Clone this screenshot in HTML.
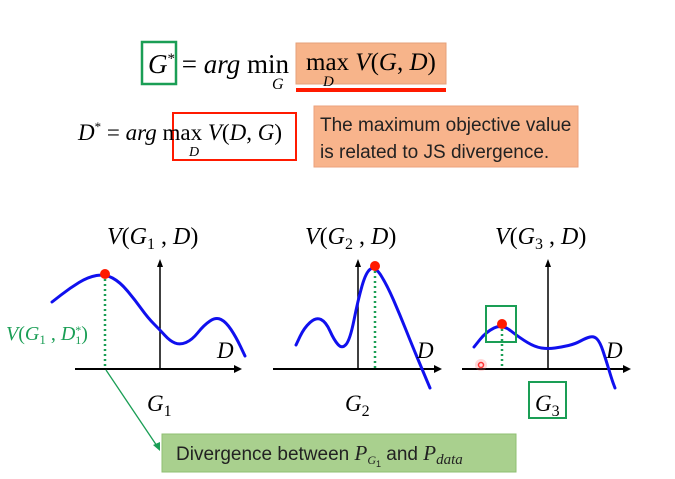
<!DOCTYPE html>
<html><head><meta charset="utf-8"><style>
html,body{margin:0;padding:0;background:#fff;}
svg{display:block;}
text{font-family:"Liberation Serif",serif;}
.it{font-style:italic;}
.sans{font-family:"Liberation Sans",sans-serif;}
</style></head><body>
<svg id="s" width="675" height="479" viewBox="0 0 675 479">
  <rect width="675" height="479" fill="#fff"/>
  <rect x="142" y="42" width="34" height="42" fill="none" stroke="#1a9e55" stroke-width="2.5"/>
  <rect x="296" y="43" width="150" height="41" fill="#f7b48a" stroke="#e6a07a"/>
  <rect x="296" y="88" width="150" height="4" fill="#ff1a00"/>
  <text x="148" y="73" font-size="27"><tspan class="it">G</tspan><tspan font-size="15" dy="-10">*</tspan><tspan dy="10"> = </tspan><tspan class="it">arg</tspan> min</text>
  <text x="272" y="89" font-size="16" class="it">G</text>
  <text x="306" y="70" font-size="25">max <tspan class="it">V</tspan>(<tspan class="it">G</tspan>, <tspan class="it">D</tspan>)</text>
  <text x="323" y="86" font-size="15" class="it">D</text>

  <rect x="173" y="113" width="123" height="47" fill="none" stroke="#ff1a00" stroke-width="2"/>
  <text x="78" y="140" font-size="23"><tspan class="it">D</tspan><tspan font-size="13" dy="-9">*</tspan><tspan dy="9"> = </tspan><tspan class="it">arg</tspan> max <tspan class="it">V</tspan>(<tspan class="it">D</tspan>, <tspan class="it">G</tspan>)</text>
  <text x="189" y="156" font-size="14" class="it">D</text>
  <rect x="314" y="106" width="264" height="61" fill="#f8b48c" stroke="#eba27c"/>
  <text x="320" y="131" font-size="19" class="sans" fill="#222">The maximum objective value</text>
  <text x="320" y="158" font-size="19" class="sans" fill="#222">is related to JS divergence.</text>

  <g id="plots"></g>

  <text x="6" y="340" font-size="20" fill="#1a9e55"><tspan class="it">V</tspan>(<tspan class="it">G</tspan><tspan font-size="13" dy="4">1</tspan><tspan dy="-4"> , </tspan><tspan class="it">D</tspan><tspan font-size="12" dy="-6">*</tspan><tspan font-size="12" dx="-6" dy="10">1</tspan><tspan dy="-4">)</tspan></text>
  <rect x="529" y="382" width="37" height="36" fill="none" stroke="#1a9e55" stroke-width="2"/>
  <rect x="486" y="306" width="30" height="36" fill="none" stroke="#1a9e55" stroke-width="2"/>
  <circle cx="481" cy="365" r="6" fill="#f66" opacity="0.25"/>
  <circle cx="481" cy="365" r="2.5" fill="none" stroke="#f33" stroke-width="1.5"/>

  <line x1="106" y1="370" x2="157" y2="446" stroke="#1a9e55" stroke-width="1.3"/>
  <polygon points="160,451 153,445 160,442" fill="#1a9e55"/>
  <rect x="162" y="434" width="354" height="38" fill="#a9d08e" stroke="#8fbf72"/>
  <text x="176" y="460" font-size="19" class="sans" fill="#222">Divergence between <tspan class="it" font-family="Liberation Serif" font-size="21">P</tspan><tspan class="it" font-family="Liberation Serif" font-size="12" dy="4">G</tspan><tspan font-size="9" dy="3">1</tspan><tspan dy="-7"> and </tspan><tspan class="it" font-family="Liberation Serif" font-size="21">P</tspan><tspan class="it" font-family="Liberation Serif" font-size="15" dy="4">data</tspan></text>
</svg>
<script>
const plotNames = ["G1","G2","G3"];
const axisX0 = [75, 273, 462];
const axisX1 = [242, 442, 631];
const yAxisX = [160, 358, 548];
const curve1 = [[52,302],[70,288],[88,277],[105,274],[120,282],[135,300],[148,318],[160,330],[170,341],[180,345],[192,340],[204,325],[216,317],[226,322],[236,337],[245,356]];
const curve2 = [[296,345],[304,328],[316,317],[326,322],[334,340],[342,349],[350,340],[358,300],[366,272],[375,266],[387,285],[400,315],[412,345],[422,369],[430,388]];
const curve3 = [[474,347],[486,332],[502,324],[520,338],[535,347],[548,349],[562,347],[575,344],[586,338],[594,336],[600,342],[606,360],[612,380],[615,388]];
const curves = [curve1, curve2, curve3];
const peaks = [[105,274],[375,266],[502,324]];
const NS="http://www.w3.org/2000/svg";
const g=document.getElementById('plots');
function mk(t,a){const e=document.createElementNS(NS,t);for(const k in a)e.setAttribute(k,a[k]);g.appendChild(e);return e;}
const axisY=369, axisTop=259;
for(let i=0;i<3;i++){
  let l=mk('line',{x1:axisX0[i],y1:axisY,x2:axisX1[i]-6,y2:axisY,stroke:'#000','stroke-width':2});
  
  
  let ah=mk('polygon',{points:`${axisX1[i]},${axisY} ${axisX1[i]-8},${axisY-4} ${axisX1[i]-8},${axisY+4}`,fill:'#000'});
  
  
  let v=mk('line',{x1:yAxisX[i],y1:axisY,x2:yAxisX[i],y2:axisTop+6,stroke:'#000','stroke-width':1.5});
  
  
  let va=mk('polygon',{points:`${yAxisX[i]},${axisTop} ${yAxisX[i]-3},${axisTop+8} ${yAxisX[i]+3},${axisTop+8}`,fill:'#000'});
  
  
  const pts=curves[i];
  let d='M'+pts[0][0]+','+pts[0][1];
  for(let j=1;j<pts.length;j++){const p0=pts[j-1],p1=pts[j];const mx=(p0[0]+p1[0])/2,my=(p0[1]+p1[1])/2;d+=` Q${p0[0]},${p0[1]} ${mx},${my}`;}
  d+=` L${pts[pts.length-1][0]},${pts[pts.length-1][1]}`;
  let c=mk('path',{d:d,fill:'none',stroke:'#1010ee','stroke-width':3,'stroke-linecap':'round'});
  
  
  let dl=mk('line',{x1:peaks[i][0],y1:peaks[i][1],x2:peaks[i][0],y2:axisY,stroke:'#1a9e55','stroke-width':2.5,'stroke-dasharray':'2,3'});
  
  
  let dot=mk('circle',{cx:peaks[i][0],cy:peaks[i][1],r:5,fill:'#ff1a00'});
  
  
  let t=mk('text',{x:yAxisX[i]-53,y:244,'font-size':24});
  t.innerHTML=`<tspan font-style="italic">V</tspan>(<tspan font-style="italic">G</tspan><tspan font-size="16" dy="5">${i+1}</tspan><tspan dy="-5"> , </tspan><tspan font-style="italic">D</tspan>)`;
  
  
  let dt=mk('text',{x:axisX1[i]-25,y:358,'font-size':23,'font-style':'italic'});
  dt.textContent='D';
  
  
  let gt=mk('text',{x:yAxisX[i]-13,y:411,'font-size':23});
  gt.innerHTML=`<tspan font-style="italic">G</tspan><tspan font-size="16" dy="5">${i+1}</tspan>`;
  
  
}
</script>
</body></html>
